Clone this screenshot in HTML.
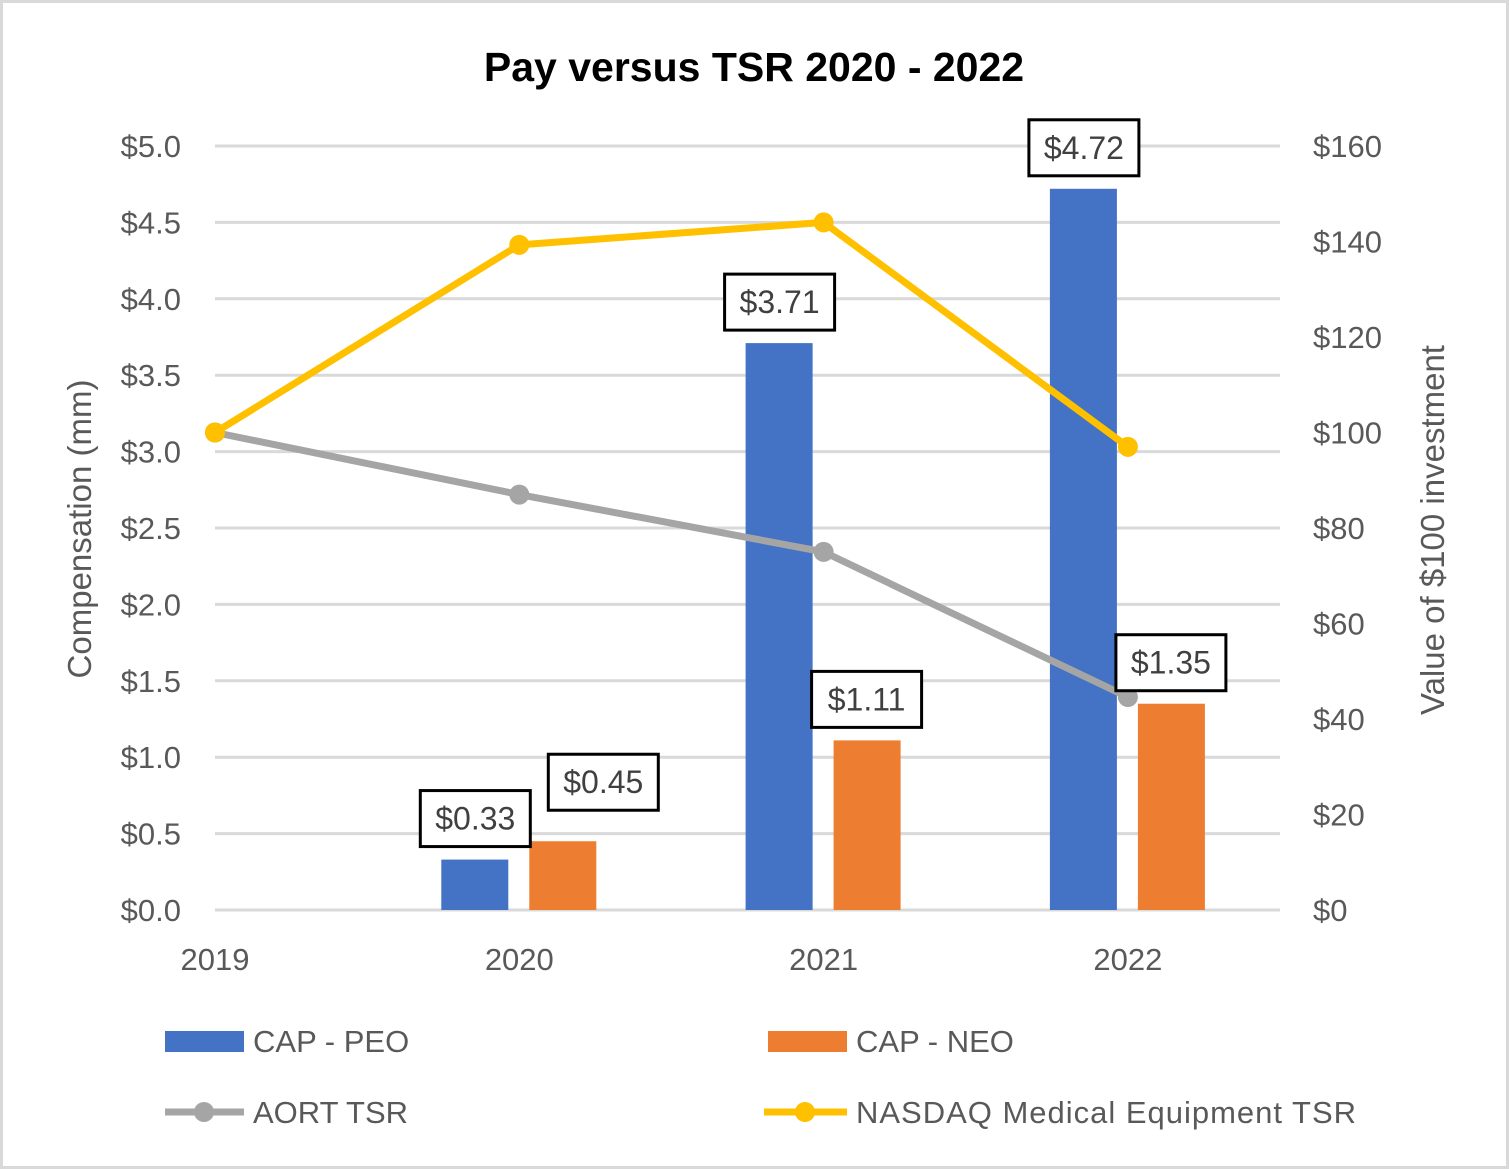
<!DOCTYPE html>
<html><head><meta charset="utf-8"><style>
html,body{margin:0;padding:0;background:#fff;}
svg{display:block;font-family:"Liberation Sans",sans-serif;}
</style></head><body>
<svg id="c" width="1509" height="1169">
<rect x="1.5" y="1.5" width="1506" height="1166" fill="#fff" stroke="#d9d9d9" stroke-width="3"/>
<text x="754" y="81" text-anchor="middle" font-size="41" font-weight="bold" fill="#000">Pay versus TSR 2020 - 2022</text>
<text transform="translate(91,529) rotate(-90)" text-anchor="middle" font-size="33" fill="#595959">Compensation (mm)</text>
<text transform="translate(1444,530) rotate(-90)" text-anchor="middle" font-size="33" fill="#595959">Value of $100 investment</text>
<g id="grid"></g><g id="bars"></g><g id="lines"></g><g id="labels"></g>
<g>
<rect x="165" y="1031" width="79" height="21" fill="#4472c4"/>
<text x="253" y="1052" font-size="31" fill="#595959">CAP - PEO</text>
<rect x="768" y="1031" width="79" height="21" fill="#ed7d31"/>
<text x="856" y="1052" font-size="31" fill="#595959">CAP - NEO</text>
<line x1="165" y1="1112" x2="244" y2="1112" stroke="#a5a5a5" stroke-width="7"/>
<circle cx="204" cy="1112" r="10" fill="#a5a5a5"/>
<text x="253" y="1123" font-size="31" fill="#595959">AORT TSR</text>
<line x1="764" y1="1112" x2="847" y2="1112" stroke="#ffc000" stroke-width="7"/>
<circle cx="805" cy="1112" r="10" fill="#ffc000"/>
<text x="856" y="1123" font-size="31" fill="#595959" textLength="500">NASDAQ Medical Equipment TSR</text>
</g>
</svg>
<script>
const categories=["2019","2020","2021","2022"];
const peo=[null,0.33,3.71,4.72];
const neo=[null,0.45,1.11,1.35];
const aortTSR=[100,87,75,44.6];
const nasdaqTSR=[100,139.3,144,97];
const leftTicks=[0,0.5,1,1.5,2,2.5,3,3.5,4,4.5,5];
const rightTicks=[0,20,40,60,80,100,120,140,160];

const NS="http://www.w3.org/2000/svg";
const X0=215,XS=304.3,Y0=910,Y1=146;
const xPos=i=>X0+i*XS;
const yL=v=>Y0-(v/5)*(Y0-Y1);
const yR=v=>Y0-(v/160)*(Y0-Y1);
function mk(tag,attrs,parent,txt){const e=document.createElementNS(NS,tag);for(const k in attrs)e.setAttribute(k,attrs[k]);if(txt!=null)e.textContent=txt;parent.appendChild(e);return e;}
const grid=document.getElementById('grid'),bars=document.getElementById('bars'),lines=document.getElementById('lines'),labels=document.getElementById('labels');
leftTicks.forEach(v=>{
  const l=mk('line',{x1:215,x2:1280,y1:yL(v),y2:yL(v),stroke:'#d9d9d9','stroke-width':3},grid);
  
  
  const t=mk('text',{x:181,y:yL(v)+11,'text-anchor':'end','font-size':31,fill:'#595959'},grid,'$'+v.toFixed(1));
  
  
});
rightTicks.forEach(v=>{
  const t=mk('text',{x:1313,y:yR(v)+11,'font-size':31,fill:'#595959'},grid,'$'+v);
  
  
});
categories.forEach((c,i)=>{
  const t=mk('text',{x:xPos(i),y:970,'text-anchor':'middle','font-size':31,fill:'#595959'},grid,c);
  
  
});
function label(cx,yBottom,txt){
  const w=110;
  const r=mk('rect',{x:cx-w/2,y:yBottom-56,width:w,height:56,fill:'#fff',stroke:'#000','stroke-width':3},labels);
  
  
  const t=mk('text',{x:cx,y:yBottom-17,'text-anchor':'middle','font-size':32,fill:'#404040'},labels,txt);
  
  
}
categories.forEach((c,i)=>{
  if(peo[i]!=null){
    const x=xPos(i)-78;
    const b=mk('rect',{x:x,y:yL(peo[i]),width:67,height:Y0-yL(peo[i]),fill:'#4472c4'},bars);
    
    
  }
  if(neo[i]!=null){
    const x=xPos(i)+10;
    const b=mk('rect',{x:x,y:yL(neo[i]),width:67,height:Y0-yL(neo[i]),fill:'#ed7d31'},bars);
    
    
  }
});
function series(vals,color,name){
  const pts=vals.map((v,i)=>xPos(i)+','+yR(v)).join(' ');
  const p=mk('polyline',{points:pts,fill:'none',stroke:color,'stroke-width':7,'stroke-linejoin':'round'},lines);
  
  
  vals.forEach((v,i)=>{
    const m=mk('circle',{cx:xPos(i),cy:yR(v),r:10,fill:color},lines);
    
    
  });
}
series(aortTSR,'#a5a5a5','aort-tsr');
series(nasdaqTSR,'#ffc000','nasdaq-tsr');
categories.forEach((c,i)=>{
  if(peo[i]!=null) label(xPos(i)-44,yL(peo[i])-13,'$'+peo[i].toFixed(2));
  if(neo[i]!=null){
    if(i===1) label(xPos(i)+84,yL(neo[i])-31,'$'+neo[i].toFixed(2));
    else label(xPos(i)+43,yL(neo[i])-13,'$'+neo[i].toFixed(2));
  }
});
</script>
</body></html>
